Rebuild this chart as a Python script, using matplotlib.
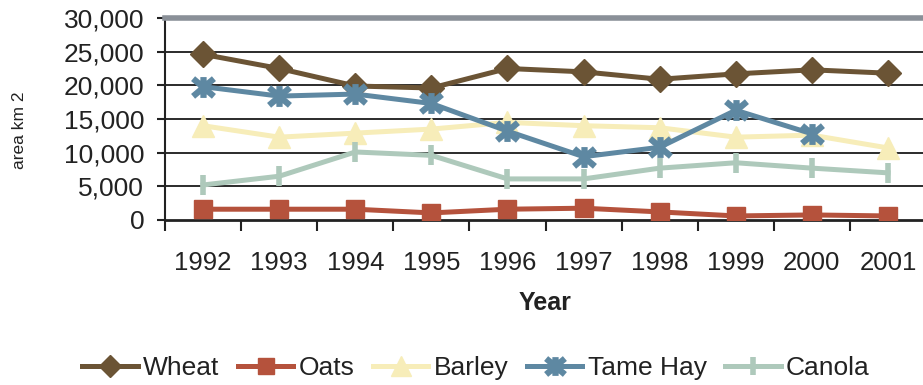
import matplotlib.pyplot as plt
import numpy as np
from matplotlib.path import Path
from matplotlib.ticker import FuncFormatter

years = ['1992', '1993', '1994', '1995', '1996', '1997', '1998', '1999', '2000', '2001']
wheat = [24600, 22500, 19900, 19600, 22500, 22000, 20900, 21700, 22300, 21800]
oats = [1600, 1600, 1600, 1050, 1600, 1750, 1200, 600, 750, 600]
barley = [14000, 12300, 12900, 13500, 14500, 14000, 13700, 12300, 12600, 10700]
tame_hay = [19800, 18400, 18700, 17300, 13200, 9400, 10800, 16300, 12800, np.nan]
canola = [5200, 6500, 10100, 9600, 6100, 6100, 7700, 8500, 7700, 7000]

plt.rcParams['font.family'] = ['Liberation Sans', 'DejaVu Sans']

# star marker: an x crossed by a vertical stroke
star = Path([(-1, -0.85), (1, 0.85), (-1, 0.85), (1, -0.85), (0, -1), (0, 1)],
            [Path.MOVETO, Path.LINETO, Path.MOVETO, Path.LINETO, Path.MOVETO, Path.LINETO])

fig = plt.figure(figsize=(9.23, 3.85), dpi=100)
ax = fig.add_axes([0.1788, 0.4286, 0.8245, 0.5247])

x = np.arange(len(years))
lw = 3.6
ax.plot(x, wheat, color='#6B5435', lw=lw, marker='D', ms=13, label='Wheat', zorder=5)
ax.plot(x, oats, color='#B5523C', lw=lw, marker='s', ms=13, label='Oats', zorder=5)
ax.plot(x, barley, color='#F7EDB9', lw=lw, marker='^', ms=16, label='Barley', zorder=4)
ax.plot(x, tame_hay, color='#5E88A2', lw=lw, marker=star, ms=15, mew=4.5,
        label='Tame Hay', zorder=5)
ax.plot(x, canola, color='#AEC9BB', lw=lw, marker='|', ms=15, mew=4,
        label='Canola', zorder=4)

ax.set_xlim(-0.5, 9.5)
ax.set_ylim(0, 30000)
ax.set_yticks(np.arange(0, 30001, 5000))
ax.yaxis.set_major_formatter(FuncFormatter(lambda v, p: f'{int(v):,}'))
for yv in range(5000, 30000, 5000):
    ax.axhline(yv, color='#1a1a1a', lw=1.3, zorder=1)

ax.set_xticks(x)
ax.set_xticklabels(years)
ax.set_xticks(np.arange(-0.5, 10, 1), minor=True)
ax.tick_params(axis='x', which='major', length=0, pad=22, labelsize=18.5, colors='#222222')
ax.tick_params(axis='x', which='minor', length=8, width=1.5, color='#222222')
ax.tick_params(axis='y', length=6, width=1.5, pad=9, labelsize=19, colors='#222222')

ax.spines['right'].set_visible(False)
ax.spines['top'].set_color('#8A9098')
ax.spines['top'].set_linewidth(4)
ax.spines['left'].set_linewidth(1.5)
ax.spines['bottom'].set_linewidth(2)
ax.spines['left'].set_color('#222222')
ax.spines['bottom'].set_color('#222222')

ax.set_xlabel('Year', fontsize=18, fontweight='bold', labelpad=12, color='#222222')
fig.text(0.021, 0.662, 'area km 2', rotation=90, fontsize=12.5, ha='center', va='center',
         color='#222222')

fig.legend(loc='center', bbox_to_anchor=(476 / 923, 1 - 368 / 385), ncol=5,
           frameon=False, fontsize=19, handlelength=2.1, handletextpad=0.2,
           columnspacing=0.7, markerscale=0.9, labelcolor='#222222')

fig.savefig('out.png', dpi=100)
